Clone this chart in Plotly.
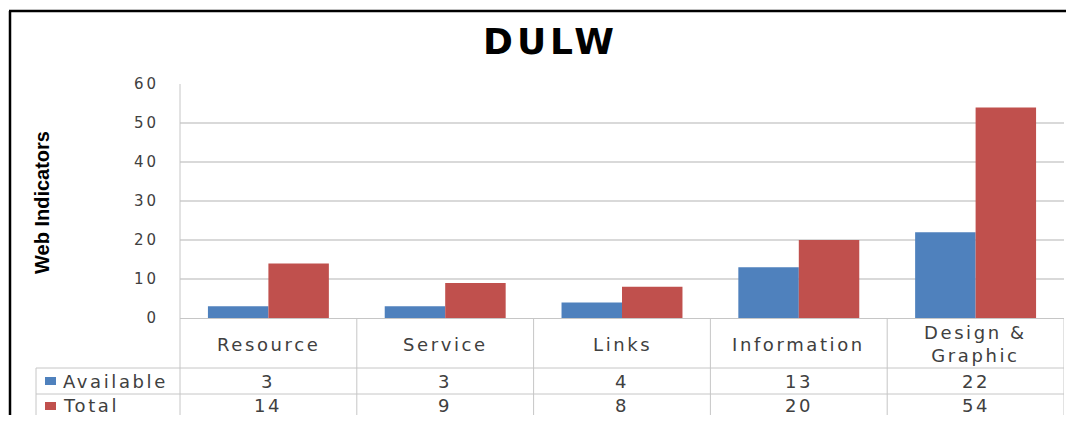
import plotly.graph_objects as go

# ---- data ----
categories = ["Resource", "Service", "Links", "Information", "Design & Graphic"]
header_labels = ["Resource", "Service", "Links", "Information", "Design &<br>Graphic"]
available = [3, 3, 4, 13, 22]
total = [14, 9, 8, 20, 54]
series_names = ["Available", "Total"]
y_ticks = [0, 10, 20, 30, 40, 50, 60]

BLUE = "#4F81BD"
RED = "#C0504D"
TXT = "#404040"
GRID = "#D9D9D9"
TLINE = "#C6C6C6"

OFF = 8  # page body margin offset
W, H = 1074 - 2 * OFF, 423 - 2 * OFF
# plot area in window pixels
PL, PR, PT, PB = 180, 1064, 84, 318


def xp(px):
    return (px - PL) / (PR - PL)


def yp(py):
    return (PB - py) / (PB - PT)


def spaced(t, ls):
    return f'<span style="letter-spacing:{ls}px">{t}</span>'


fig = go.Figure()
fig.add_trace(go.Bar(x=categories, y=available, name=series_names[0],
                     marker=dict(color=BLUE, line=dict(width=0))))
fig.add_trace(go.Bar(x=categories, y=total, name=series_names[1],
                     marker=dict(color=RED, line=dict(width=0))))

shapes = []
# outer border (left + top)
shapes.append(dict(type="line", xref="paper", yref="paper", x0=xp(10), x1=xp(10),
                   y0=yp(11), y1=yp(440), line=dict(color="black", width=2.5)))
shapes.append(dict(type="line", xref="paper", yref="paper", x0=xp(9), x1=xp(1074),
                   y0=yp(11), y1=yp(11), line=dict(color="black", width=2.5)))
# left axis line extending through table
shapes.append(dict(type="line", xref="paper", yref="paper", x0=0, x1=0,
                   y0=1, y1=yp(440), line=dict(color=TLINE, width=1)))
# category boundaries in table
for i in range(len(categories)):
    xb = i + 0.5
    shapes.append(dict(type="line", xref="x", yref="paper", x0=xb, x1=xb,
                       y0=0, y1=yp(440), line=dict(color=TLINE, width=1)))
# table row lines
for py in (368, 394):
    shapes.append(dict(type="line", xref="paper", yref="paper", x0=xp(36), x1=1,
                       y0=yp(py), y1=yp(py), line=dict(color=TLINE, width=1)))
shapes.append(dict(type="line", xref="paper", yref="paper", x0=xp(36), x1=xp(36),
                   y0=yp(368), y1=yp(440), line=dict(color=TLINE, width=1)))
# legend keys
shapes.append(dict(type="rect", xref="paper", yref="paper", x0=xp(45), x1=xp(56),
                   y0=yp(377), y1=yp(385), fillcolor=BLUE, line=dict(width=0)))
shapes.append(dict(type="rect", xref="paper", yref="paper", x0=xp(45), x1=xp(56),
                   y0=yp(402), y1=yp(410), fillcolor=RED, line=dict(width=0)))

TFONT = dict(family="DejaVu Sans, Verdana, sans-serif", size=18, color=TXT)
LS = 2.6

annotations = []
annotations.append(dict(text=spaced("DULW", 4), xref="paper", yref="paper",
                        x=xp(550), y=yp(41), showarrow=False, xanchor="center", yanchor="middle",
                        font=dict(family="DejaVu Sans, sans-serif", size=36, color="black", weight="bold")))
annotations.append(dict(text="Web Indicators", xref="paper", yref="paper",
                        x=xp(42), y=yp(203), showarrow=False, textangle=-90,
                        xanchor="center", yanchor="middle",
                        font=dict(family="Liberation Sans, Arial, sans-serif", size=20, color="black", weight="bold")))
for i, lab in enumerate(header_labels):
    annotations.append(dict(text=spaced(lab, LS), xref="x", yref="paper", x=i, y=yp(344),
                            showarrow=False, xanchor="center", yanchor="middle", font=TFONT))
for i, v in enumerate(available):
    annotations.append(dict(text=spaced(str(v), LS), xref="x", yref="paper", x=i, y=yp(381),
                            showarrow=False, xanchor="center", yanchor="middle", font=TFONT))
for i, v in enumerate(total):
    annotations.append(dict(text=spaced(str(v), LS), xref="x", yref="paper", x=i, y=yp(405),
                            showarrow=False, xanchor="center", yanchor="middle", font=TFONT))
annotations.append(dict(text=spaced(series_names[0], LS), xref="paper", yref="paper",
                        x=xp(61), y=yp(381), showarrow=False, xanchor="left", yanchor="middle", font=TFONT))
annotations.append(dict(text=spaced(series_names[1], LS), xref="paper", yref="paper",
                        x=xp(61), y=yp(405), showarrow=False, xanchor="left", yanchor="middle", font=TFONT))

fig.update_layout(
    width=W, height=H, autosize=False,
    margin=dict(l=PL - OFF, r=W - (PR - OFF), t=PT - OFF, b=H - (PB - OFF), pad=0),
    paper_bgcolor="white", plot_bgcolor="white",
    barmode="group", bargap=0.316, bargroupgap=0,
    showlegend=False,
    shapes=shapes, annotations=annotations,
    xaxis=dict(range=[-0.5, 4.5], showticklabels=False, ticks="", showgrid=False,
               showline=True, linecolor=TLINE, linewidth=1, zeroline=False, fixedrange=True),
    yaxis=dict(range=[0, 60], tickvals=y_ticks,
               ticktext=[spaced(str(t), 3) for t in y_ticks],
               showgrid=True, gridcolor=GRID, gridwidth=2, zeroline=False,
               showline=False, ticks="", ticklabelstandoff=20,
               tickfont=dict(family="DejaVu Sans, Verdana, sans-serif", size=15, color=TXT)),
)

fig.write_html("out.html")
